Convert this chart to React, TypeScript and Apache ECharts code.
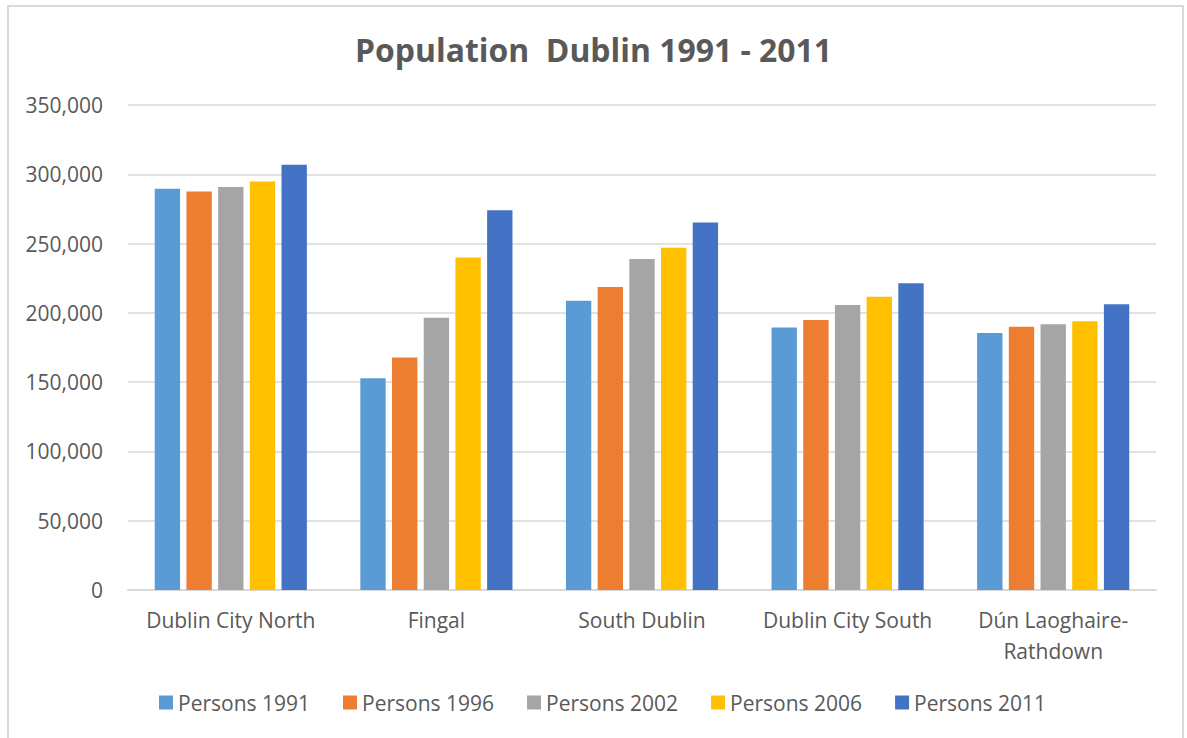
import React, { useEffect, useRef } from "react";
import * as echarts from "echarts";

const categories = [
  "Dublin City North",
  "Fingal",
  "South Dublin",
  "Dublin City South",
  "Dún Laoghaire-Rathdown",
];
const seriesNames = ["Persons 1991", "Persons 1996", "Persons 2002", "Persons 2006", "Persons 2011"];
const persons1991 = [289500, 152800, 208800, 189500, 185400];
const persons1996 = [287500, 167700, 218700, 194800, 190000];
const persons2002 = [290900, 196400, 238800, 205700, 191800];
const persons2006 = [294800, 240000, 246900, 211700, 194000];
const persons2011 = [306800, 274000, 265200, 221300, 206300];
const colors = ["#5B9BD5", "#ED7D31", "#A5A5A5", "#FFC000", "#4472C4"];

const FONT = "'Open Sans', sans-serif";
const TEXT = "#595959";

export default function App() {
  const ref = useRef<HTMLDivElement>(null);
  useEffect(() => {
    document.body.style.margin = "0";
    if (!ref.current) return;
    const chart = echarts.init(ref.current, null, { renderer: "svg" });
    const values = [persons1991, persons1996, persons2002, persons2006, persons2011];
    chart.setOption({
      animation: false,
      backgroundColor: "#ffffff",
      color: colors,
      textStyle: { fontFamily: FONT },
      title: {
        text: "Population  Dublin 1991 - 2011",
        left: "center",
        top: 28,
        textStyle: { fontFamily: FONT, fontSize: 31.9, fontWeight: "bold", color: TEXT },
      },
      graphic: [
        {
          type: "rect",
          shape: { x: 8, y: 6, width: 1175, height: 760 },
          style: { fill: "none", stroke: "#d9d9d9", lineWidth: 2 },
          silent: true,
        },
      ],
      legend: {
        bottom: 20,
        left: 154,
        itemWidth: 14,
        itemHeight: 14,
        itemGap: 33,
        icon: "rect",
        textStyle: { fontFamily: FONT, fontSize: 21, color: TEXT },
        data: seriesNames,
      },
      grid: { left: 128, right: 31, top: 105, bottom: 148, containLabel: false },
      xAxis: {
        type: "category",
        data: categories,
        axisTick: { show: false },
        axisLine: { lineStyle: { color: "#d9d9d9", width: 2 } },
        axisLabel: {
          fontFamily: FONT,
          fontSize: 21,
          color: TEXT,
          margin: 14,
          lineHeight: 31,
          interval: 0,
          formatter: (v: string) => v.replace("-", "-\n"),
        },
      },
      yAxis: {
        type: "value",
        min: 0,
        max: 350000,
        interval: 50000,
        axisLine: { show: false },
        axisTick: { show: false },
        splitLine: { lineStyle: { color: "#d9d9d9", width: 1.5 } },
        axisLabel: {
          fontFamily: FONT,
          fontSize: 21,
          color: TEXT,
          margin: 25,
          formatter: (v: number) => v.toLocaleString("en-US"),
        },
      },
      series: seriesNames.map((name, i) => ({
        name,
        type: "bar",
        data: values[i],
        barGap: "25%",
        barCategoryGap: "26%",
        itemStyle: { color: colors[i] },
      })),
    });
    return () => chart.dispose();
  }, []);
  return <div ref={ref} style={{ width: 1187, height: 738 }} />;
}
